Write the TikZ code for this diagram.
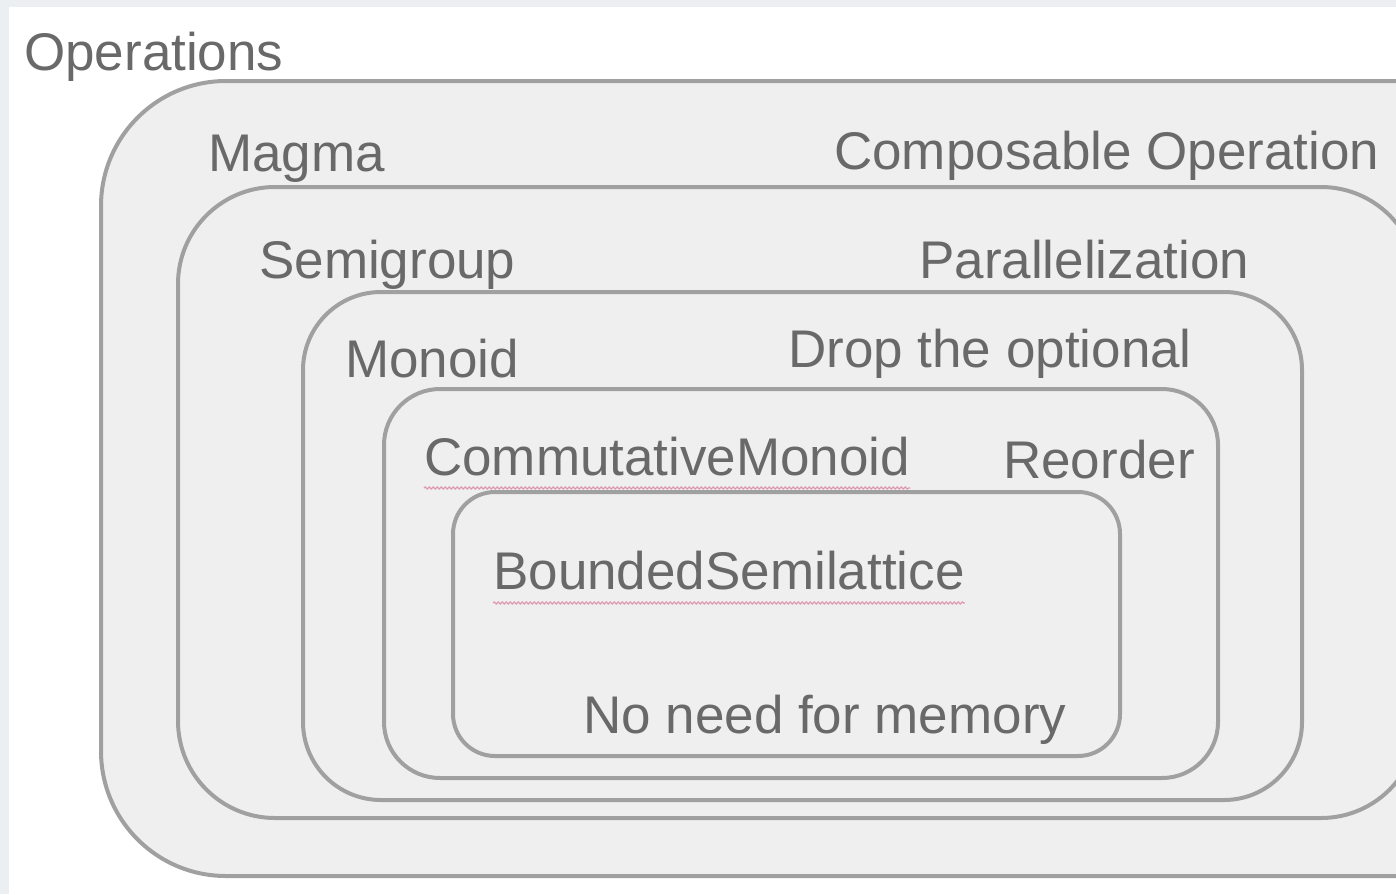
\documentclass[tikz,border=0pt]{standalone}
\usepackage{fontspec}
\setmainfont{Liberation Sans}
\usetikzlibrary{positioning}
\usetikzlibrary{decorations.pathmorphing}
\definecolor{pagegrey}{HTML}{ECEFF1}
\definecolor{setline}{HTML}{A0A0A0}
\definecolor{setfill}{HTML}{EFEFF0}
\definecolor{settext}{HTML}{696969}
\definecolor{squiggly}{HTML}{DE9AAE}
\tikzset{
  % every set is a grey rounded box
  setbox/.style={draw=setline,fill=setfill,line width=4pt},
  % names of the sets and of what they give
  setname/.style={anchor=base west,inner sep=0pt,text=settext,
    font=\fontsize{53}{63}\selectfont},
  % spell checker underline
  squiggle/.style={draw=squiggly,line width=1.2pt,decorate,
    decoration={snake,segment length=4pt,amplitude=1pt}},
}

\begin{document}
\begin{tikzpicture}[x=1pt,y=-1pt]
  \useasboundingbox (0,0) rectangle (1396,894);
  \clip (0,0) rectangle (1396,894);
  \fill[pagegrey] (0,0) rectangle (1396,894);
  \fill[white] (9,7) rectangle (1396,894);

  % the nested sets, outermost first
  \draw[setbox,rounded corners=125pt] (101,81) rectangle (1600,876);
  \draw[setbox,rounded corners=97pt] (178,187) rectangle (1418,818);
  \draw[setbox,rounded corners=78pt] (303,292) rectangle (1302,800);
  \draw[setbox,rounded corners=56pt] (384,389) rectangle (1218,778);
  \draw[setbox,rounded corners=42pt] (453,492) rectangle (1120,756);

  \node[setname] (ops) at (24,70) {Operations};
  \node[setname] (magma) at (208,171) {Magma};
  \node[setname] (compose) at (834,169) {Composable Operation};
  \node[setname] (semi) at (259,278) {Semigroup};
  \node[setname] (para) at (919,278) {Parallelization};
  \node[setname] (monoid) at (345,377) {Monoid};
  \node[setname] (dropopt) at (788,367) {Drop the optional};
  \node[setname] (cmonoid) at (424,475) {CommutativeMonoid};
  \node[setname] (reorder) at (1003,478) {Reorder};
  \node[setname] (bsl) at (493,589) {BoundedSemilattice};
  \node[setname] (nomem) at (583,733) {No need for memory};

  \draw[squiggle] ([yshift=-13pt]cmonoid.base west) -- ([yshift=-13pt]cmonoid.base east);
  \draw[squiggle] ([yshift=-14pt]bsl.base west) -- ([yshift=-14pt]bsl.base east);
\end{tikzpicture}
\end{document}
